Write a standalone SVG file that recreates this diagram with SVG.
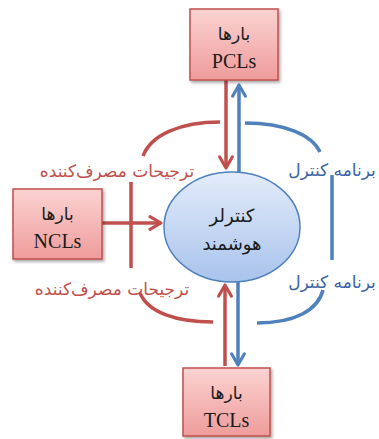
<svg xmlns="http://www.w3.org/2000/svg" width="379" height="439" viewBox="0 0 379 439">
<style>
.box{fill:url(#gBox);stroke:#C0504D;stroke-width:1.5;filter:url(#sh)}
.fa{font-family:"DejaVu Sans",sans-serif;text-anchor:middle}
.en{font-family:"Liberation Serif",serif;text-anchor:middle;font-size:20px;fill:#1a1a1a}
.red{stroke:#C0504D;stroke-width:3.5;fill:none}
.blue{stroke:#4F81BD;stroke-width:3.5;fill:none}
.rt{fill:#C0504D;font-size:17px}
.bt{fill:#3A63A6;font-size:17px}
.bx{font-size:17px;fill:#1a1a1a}
</style>
<defs>
<linearGradient id="gBox" x1="0" y1="0" x2="0" y2="1">
<stop offset="0" stop-color="#FBD3D2"/>
<stop offset="1" stop-color="#EE9C9B"/>
</linearGradient>
<linearGradient id="gEl" x1="0" y1="0" x2="0" y2="1">
<stop offset="0" stop-color="#E3ECFA"/>
<stop offset="1" stop-color="#A9C3EC"/>
</linearGradient>
<filter id="sh" x="-20%" y="-20%" width="140%" height="140%">
<feDropShadow dx="1.5" dy="2" stdDeviation="1.5" flood-color="#000" flood-opacity="0.35"/>
</filter>
<marker id="ar" viewBox="0 0 10 10" refX="8" refY="5" markerWidth="4.5" markerHeight="4.5" orient="auto" markerUnits="strokeWidth">
<path d="M1,1 L8,5 L1,9" fill="none" stroke="#C0504D" stroke-width="2" stroke-linecap="round" stroke-linejoin="round"/>
</marker>
<marker id="ab" viewBox="0 0 10 10" refX="8" refY="5" markerWidth="4.5" markerHeight="4.5" orient="auto" markerUnits="strokeWidth">
<path d="M1,1 L8,5 L1,9" fill="none" stroke="#4F81BD" stroke-width="2" stroke-linecap="round" stroke-linejoin="round"/>
</marker>
</defs>
<rect width="379" height="439" fill="#fff"/>
<g id="connectors">
<path class="red" d="M226,80 V168" marker-end="url(#ar)"/>
<path class="blue" d="M239,172 V85" marker-end="url(#ab)"/>
<path class="red" d="M102,223 H161" marker-end="url(#ar)"/>
<path class="red" d="M225,366 V285" marker-end="url(#ar)"/>
<path class="blue" d="M238,282 V365" marker-end="url(#ab)"/>
<path class="red" d="M143,156 C151,135 180,122 220,122"/>
<path class="blue" d="M245,123 C285,123 312,135 320,152"/>
<path class="red" d="M140,293 C148,312 175,322 213,322"/>
<path class="blue" d="M257,323 C295,323 318,310 323,290"/>
<path class="red" d="M131,182 V268"/>
<path class="blue" d="M332,175 V260"/>
</g>
<g id="label-pref-top"><text class="fa rt" x="117" y="177">ترجیحات مصرف‌کننده</text></g>
<g id="label-pref-bottom"><text class="fa rt" x="112" y="295">ترجیحات مصرف‌کننده</text></g>
<g id="label-prog-top"><text class="fa bt" x="332" y="176">برنامه کنترل</text></g>
<g id="label-prog-bottom"><text class="fa bt" x="332" y="288">برنامه کنترل</text></g>
<g id="controller">
<ellipse cx="232" cy="227" rx="68" ry="55" fill="url(#gEl)" stroke="#4F81BD" stroke-width="1.5"/>
<text class="fa" x="232" y="222" font-size="18" fill="#1a1a1a">کنترلر</text>
<text class="fa" x="232" y="250" font-size="18" fill="#1a1a1a">هوشمند</text>
</g>
<g id="pcl">
<rect class="box" x="190" y="9" width="88" height="71"/>
<text class="fa bx" x="234" y="40">بارها</text>
<text class="en" x="234" y="68">PCLs</text>
</g>
<g id="ncl">
<rect class="box" x="13" y="189" width="89" height="70"/>
<text class="fa bx" x="57.5" y="220">بارها</text>
<text class="en" x="57.5" y="248">NCLs</text>
</g>
<g id="tcl">
<rect class="box" x="183" y="368" width="87" height="68"/>
<text class="fa bx" x="226.5" y="399">بارها</text>
<text class="en" x="226.5" y="427">TCLs</text>
</g>
</svg>
